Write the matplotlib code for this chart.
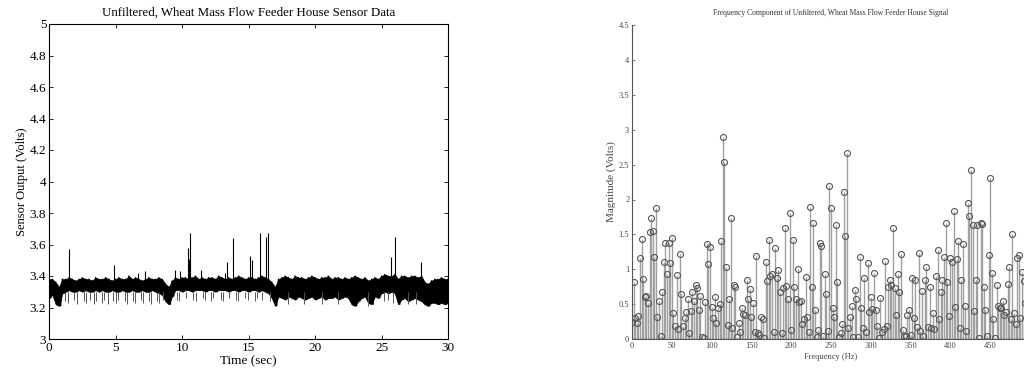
import numpy as np
import matplotlib
matplotlib.use("Agg")
import matplotlib.pyplot as plt

plt.rcParams['font.family'] = ['Liberation Serif', 'DejaVu Serif']

# ---- left panel: time signal (band envelope every 0.25 s, spikes, dips) ----
t_env = np.arange(0, 30.01, 0.25)
env_hi = [3.38, 3.38, 3.36, 3.33, 3.38,
          3.38, 3.39, 3.38, 3.37, 3.38, 3.39, 3.38, 3.38, 3.37, 3.39,
          3.38, 3.38, 3.39, 3.38, 3.37, 3.38, 3.39, 3.38, 3.38, 3.40,
          3.38, 3.39, 3.38, 3.37, 3.38, 3.39, 3.38, 3.38, 3.39, 3.38,
          3.35, 3.33, 3.37,
          3.39, 3.38, 3.39, 3.39, 3.38, 3.39, 3.40, 3.38, 3.39, 3.38,
          3.39, 3.39, 3.38, 3.40, 3.39, 3.38, 3.39, 3.38, 3.39, 3.40,
          3.39, 3.38, 3.39, 3.39, 3.38, 3.39, 3.40, 3.39, 3.38,
          3.36, 3.33, 3.38,
          3.39, 3.40, 3.39, 3.38, 3.40, 3.39, 3.39, 3.38, 3.39, 3.40,
          3.39, 3.38, 3.39, 3.39, 3.40, 3.38, 3.39, 3.39, 3.38, 3.39, 3.38,
          3.39, 3.40, 3.39,
          3.38, 3.39, 3.37, 3.38, 3.39, 3.38,
          3.40, 3.41, 3.40, 3.40, 3.41,
          3.38,
          3.40, 3.40, 3.39, 3.40, 3.40, 3.39, 3.40,
          3.36, 3.35,
          3.37, 3.38, 3.38, 3.39, 3.38, 3.38]
env_lo = [3.26, 3.28, 3.22, 3.21, 3.29,
          3.30, 3.31, 3.30, 3.30, 3.31, 3.30, 3.31, 3.30, 3.30, 3.31,
          3.30, 3.31, 3.30, 3.30, 3.31, 3.30, 3.30, 3.31, 3.30, 3.30,
          3.31, 3.30, 3.30, 3.31, 3.30, 3.30, 3.31, 3.30, 3.29, 3.28,
          3.24, 3.22, 3.27,
          3.31, 3.31, 3.30, 3.31, 3.31, 3.30, 3.31, 3.31, 3.31, 3.30,
          3.31, 3.31, 3.30, 3.31, 3.31, 3.31, 3.30, 3.31, 3.31, 3.30,
          3.31, 3.31, 3.30, 3.31, 3.31, 3.30, 3.31, 3.30, 3.29,
          3.26, 3.21, 3.27,
          3.26, 3.25, 3.27, 3.26, 3.25, 3.27, 3.26, 3.25, 3.26, 3.27,
          3.25, 3.26, 3.27, 3.25, 3.26, 3.26, 3.27, 3.25, 3.26, 3.27, 3.26,
          3.22, 3.21, 3.24,
          3.26, 3.27, 3.23, 3.22, 3.27, 3.26,
          3.29, 3.30, 3.29, 3.30, 3.29,
          3.22,
          3.25, 3.26, 3.24, 3.25, 3.26, 3.25, 3.24,
          3.22, 3.21,
          3.23, 3.23, 3.22, 3.23, 3.22, 3.23]

spike_t = [1.5, 4.9, 6.7, 7.25, 9.5, 9.85, 10.45, 10.55, 10.62, 11.4, 13.2,
           13.4, 13.8, 15.1, 15.25, 15.85, 16.3, 16.45, 25.7, 26.0, 27.95]
spike_v = [3.57, 3.47, 3.42, 3.43, 3.44, 3.43, 3.58, 3.51, 3.67, 3.44, 3.42,
           3.49, 3.64, 3.53, 3.50, 3.67, 3.65, 3.67, 3.52, 3.65, 3.49]

dip_t = [1.2, 1.45, 1.9, 2.1, 2.6, 2.75, 3.1, 3.35, 3.5, 3.95, 4.15, 4.45, 4.8,
         5.05, 5.2, 5.7, 5.85, 6.3, 6.45, 6.9, 7.05, 7.5, 7.65, 8.1, 8.25, 8.6,
         9.65, 9.8, 10.3, 10.85, 11.05, 11.55, 11.7, 12.2, 12.35, 12.9, 13.05,
         13.55, 14.05, 14.2, 14.75, 14.95, 15.45, 15.65, 16.05, 16.6,
         18.0, 19.2, 20.5, 21.7, 24.0, 25.2, 25.5, 25.9, 27.0, 27.6]
dip_v = [3.24, 3.23, 3.25, 3.22, 3.24, 3.23, 3.25, 3.22, 3.24, 3.23, 3.25,
         3.22, 3.24, 3.23, 3.25, 3.24, 3.22, 3.24, 3.23, 3.25, 3.23, 3.24,
         3.22, 3.24, 3.23, 3.25,
         3.25, 3.24, 3.26, 3.25, 3.24, 3.26, 3.25, 3.24, 3.26, 3.25, 3.24,
         3.26, 3.25, 3.24, 3.26, 3.25, 3.24, 3.26, 3.25, 3.24,
         3.22, 3.22, 3.22, 3.22, 3.21, 3.24, 3.25, 3.23, 3.22, 3.22]

# ---- right panel: FFT magnitudes every 2 Hz ----
freq = np.arange(0, 501, 2)
mag = [0.25, 0.82, 0.30, 0.23, 0.33, 1.16, 1.44, 0.86, 0.60, 0.62, 0.52, 1.54, 1.73,
       1.55, 1.18, 1.88, 0.32, 0.54, 0.05, 0.67, 1.11, 1.37, 0.93, 1.37, 1.09, 1.45,
       # 52-100
       0.37, 0.18, 0.92, 0.15, 1.22, 0.65, 0.19, 0.30, 0.38, 0.58, 0.08, 0.40, 0.68,
       0.55, 0.77, 0.73, 0.42, 0.62, 0.03, 0.02, 0.53, 1.36, 1.08, 1.32, 0.46,
       # 102-150
       0.30, 0.60, 0.23, 0.45, 0.50, 1.41, 2.89, 2.54, 1.03, 0.20, 0.58, 1.74, 0.16,
       0.77, 0.74, 0.03, 0.23, 0.10, 0.45, 0.36, 0.35, 0.85, 0.57, 0.72, 0.31,
       # 152-200
       0.51, 0.10, 1.19, 0.08, 0.06, 0.32, 0.28, 0.02, 1.10, 0.83, 1.42, 0.90, 0.93,
       0.10, 1.31, 0.88, 0.99, 0.67, 0.08, 0.73, 1.59, 0.76, 0.57, 1.81, 0.13,
       # 202-250
       1.42, 0.75, 0.58, 1.00, 0.53, 0.55, 0.22, 0.29, 0.89, 0.32, 0.10, 1.89, 0.75,
       1.66, 0.42, 0.03, 0.13, 1.38, 1.34, 0.04, 0.93, 0.65, 0.12, 2.19, 1.88,
       # 252-300
       0.45, 0.32, 1.64, 0.82, 0.03, 0.09, 0.21, 2.11, 1.48, 2.66, 0.16, 0.31, 0.48,
       0.03, 0.70, 0.58, 0.03, 1.18, 0.45, 0.16, 0.88, 0.10, 1.09, 0.38, 0.60,
       # 302-350
       0.43, 0.95, 0.41, 0.18, 0.02, 0.59, 0.10, 0.15, 1.12, 0.19, 0.74, 0.85, 0.77,
       1.59, 0.73, 0.35, 0.93, 0.68, 1.22, 0.13, 0.04, 0.05, 0.35, 0.41, 0.06,
       # 352-400
       0.87, 0.30, 0.85, 0.17, 1.23, 0.12, 0.69, 0.05, 0.85, 1.03, 0.17, 0.75, 0.16,
       0.37, 0.15, 0.90, 1.28, 0.29, 0.68, 0.84, 1.17, 1.66, 0.82, 0.33, 1.16,
       # 402-450
       1.11, 1.84, 0.46, 1.15, 1.40, 0.16, 0.85, 1.36, 0.47, 0.12, 1.95, 1.77, 2.43,
       1.63, 0.40, 0.84, 1.64, 0.02, 1.67, 1.65, 0.75, 0.42, 0.04, 1.21, 2.31,
       # 452-500
       0.94, 0.28, 0.01, 0.77, 0.48, 0.44, 0.45, 0.54, 0.34, 0.38, 0.79, 1.03, 0.29,
       1.51, 0.37, 0.22, 1.16, 1.20, 0.30, 0.96, 0.83, 0.52, 0.50, 0.90, 0.60]

fig = plt.figure(figsize=(10.24, 3.75), dpi=100)

# left axes
ax1 = fig.add_axes([0.0479, 0.096, 0.3896, 0.840])
ax1.fill_between(t_env, env_lo, env_hi, color='black', lw=0.5)
# zig-zag between the envelope values for the noisy texture
t_half = t_env + 0.125
zig_t = np.ravel(np.column_stack([t_env, t_half]))[:-1]
zig_v = np.ravel(np.column_stack([env_hi, env_lo]))[:-1]
ax1.plot(zig_t, zig_v, color='black', lw=0.9)
ax1.vlines(dip_t, 3.30, dip_v, color='#555555', lw=0.7)
ax1.vlines(spike_t, 3.37, spike_v, color='black', lw=0.8)
ax1.set_xlim(0, 30)
ax1.set_ylim(3, 5)
ax1.set_xticks(range(0, 31, 5))
ax1.set_yticks([3, 3.2, 3.4, 3.6, 3.8, 4, 4.2, 4.4, 4.6, 4.8, 5])
ax1.set_yticklabels(['3', '3.2', '3.4', '3.6', '3.8', '4', '4.2', '4.4', '4.6', '4.8', '5'])
ax1.tick_params(direction='in', top=True, right=True, labelsize=9.5, length=3, width=0.6, pad=2)
for s in ax1.spines.values():
    s.set_linewidth(0.8)
ax1.set_title('Unfiltered, Wheat Mass Flow Feeder House Sensor Data', fontsize=9.3, pad=6)
ax1.set_xlabel('Time (sec)', fontsize=9.5, labelpad=1)
ax1.set_ylabel('Sensor Output (Volts)', fontsize=9, labelpad=1)

# right axes (runs past the image edge like the source)
ax2 = fig.add_axes([0.6172, 0.096, 0.3886, 0.837])
ml, sl, bl = ax2.stem(freq, mag)
plt.setp(sl, color='#a0a0a0', linewidth=1.0)
plt.setp(ml, marker='o', markersize=4.3, markerfacecolor='none',
         markeredgecolor='#555555', markeredgewidth=0.8)
plt.setp(bl, color='#555555', linewidth=0.9)
ax2.set_xlim(0, 500)
ax2.set_ylim(0, 4.5)
ax2.set_xticks(range(0, 451, 50))
ax2.set_yticks([0, 0.5, 1, 1.5, 2, 2.5, 3, 3.5, 4, 4.5])
ax2.set_yticklabels(['0', '0.5', '1', '1.5', '2', '2.5', '3', '3.5', '4', '4.5'])
ax2.tick_params(direction='in', labelsize=6, length=2, width=0.5, pad=2, colors='#444444')
ax2.spines['top'].set_visible(False)
ax2.spines['right'].set_visible(False)
ax2.spines['left'].set_color('#555555')
ax2.spines['bottom'].set_color('#555555')
ax2.set_title('Frequency Component of Unfiltered, Wheat Mass Flow Feeder House Signal',
              fontsize=5.5, pad=7, color='#333333')
ax2.set_xlabel('Frequency (Hz)', fontsize=6, labelpad=2, color='#444444')
ax2.set_ylabel('Magnitude (Volts)', fontsize=8, labelpad=2, color='#444444')

fig.savefig('out.png', dpi=100)
